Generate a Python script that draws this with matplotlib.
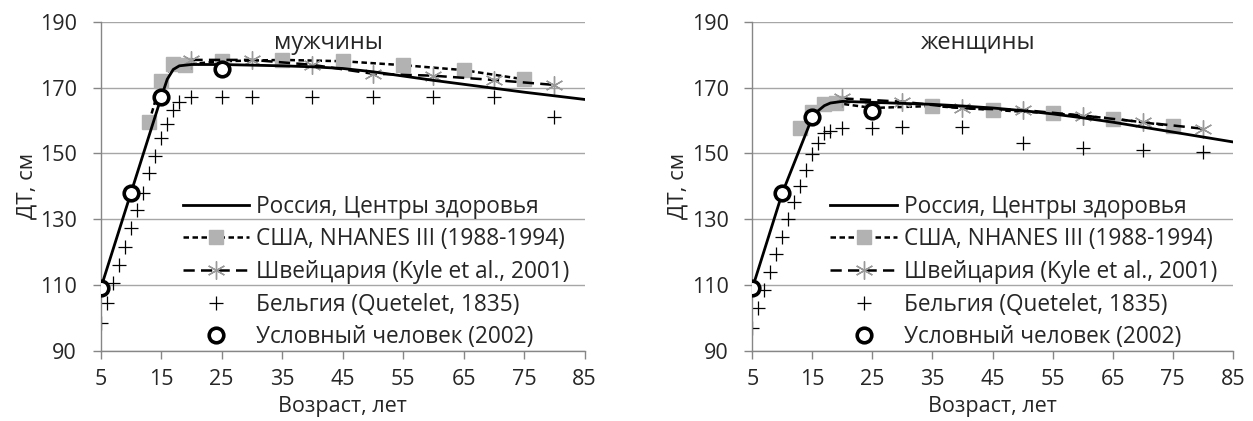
import matplotlib
matplotlib.use("Agg")
import matplotlib.pyplot as plt

plt.rcParams['font.family'] = ['Open Sans', 'DejaVu Sans']

# ---------------- data ----------------
ru_age = [5, 10, 15, 16, 17, 18, 20, 25, 30, 35, 40, 45, 50, 55, 60, 65, 70, 75, 80, 85]
ru_m = [109, 138, 167, 172.5, 175.5, 176.6, 177, 177, 176.8, 176.6, 176.3, 175.8, 174.8, 173.5, 172.2, 171, 169.8, 168.6, 167.5, 166.4]
ru_w = [109, 138, 161, 163, 164.5, 165.3, 165.8, 165.5, 165.2, 164.9, 164.4, 163.8, 163, 162, 160.8, 159.5, 158, 156.5, 155, 153.5]

usa_age = [13, 15, 17, 19, 25, 35, 45, 55, 65, 75]
usa_m = [159.5, 172, 177.1, 177, 178, 178.4, 178, 176.8, 175.3, 172.5]
usa_w = [157.6, 162.5, 164.9, 165.3, 163.8, 164.4, 163.2, 162.2, 160.6, 158.3]

sw_age = [20, 30, 40, 50, 60, 70, 80]
sw_m = [178.4, 178.4, 176.9, 174.2, 173.6, 172.3, 170.8]
sw_w = [166.7, 165.7, 163.7, 163.2, 161.5, 159.5, 157.5]

be_age = [5, 6, 7, 8, 9, 10, 11, 12, 13, 14, 15, 16, 17, 18, 20, 25, 30, 40, 50, 60, 70, 80]
be_m = [98.6, 104.7, 110.5, 116, 121.7, 127.4, 132.8, 138, 144, 149.2, 154.6, 158.9, 163.2, 165.7,
        167, 167, 167, 167, 167, 167, 167, 161]
be_w = [97, 103, 108.5, 114, 119.5, 124.5, 130, 135.3, 140.2, 145, 149.7, 153.3, 156.1, 156.8,
        157.6, 157.6, 158, 158, 153.3, 151.5, 151, 150.5]

uc_age = [5, 10, 15, 25]
uc_m = [109, 138, 167, 175.6]
uc_w = [109, 138, 161.2, 163]

labels = ["Россия, Центры здоровья", "США, NHANES III (1988-1994)",
          "Швейцария (Kyle et al., 2001)", "Бельгия (Quetelet, 1835)",
          "Условный человек (2002)"]
titles = ["мужчины", "женщины"]
xticks = [5, 15, 25, 35, 45, 55, 65, 75, 85]
yticks = [90, 110, 130, 150, 170, 190]

# ---------------- figure ----------------
W, H = 1253, 421
fig = plt.figure(figsize=(W / 100, H / 100), dpi=100)

txt_col = '#262626'
grid_col = '#a6a6a6'
axis_col = '#868686'
sq_col = '#b2b2b2'
ast_col = '#9a9a9a'
asterisk = (6, 2, 0)

panels = [
    dict(pos=[100.7 / W, 1 - 351 / H, 483.8 / W, 329.3 / H], ru=ru_m, usa=usa_m, sw=sw_m, be=be_m, uc=uc_m,
         title=titles[0], leg=(0.1695, 0.4746)),
    dict(pos=[752.3 / W, 1 - 351 / H, 480.4 / W, 329.3 / H], ru=ru_w, usa=usa_w, sw=sw_w, be=be_w, uc=uc_w,
         title=titles[1], leg=(0.162, 0.4746)),
]

for p in panels:
    ax = fig.add_axes(p['pos'])
    ax.set_xlim(5, 85)
    ax.set_ylim(90, 190)
    ax.set_xticks(xticks)
    ax.set_yticks(yticks)
    ax.yaxis.grid(True, color=grid_col, linewidth=1.0)
    ax.set_axisbelow(True)
    for s in ['top', 'right']:
        ax.spines[s].set_visible(False)
    for s in ['left', 'bottom']:
        ax.spines[s].set_color(axis_col)
        ax.spines[s].set_linewidth(1.0)
    ax.tick_params(axis='both', direction='out', length=6, width=1.0, color=axis_col,
                   labelsize=15.5, labelcolor=txt_col)
    ax.tick_params(axis='x', pad=7)
    ax.tick_params(axis='y', pad=11)

    l1, = ax.plot(ru_age, p['ru'], color='black', linewidth=2.0, zorder=3)
    l2, = ax.plot(usa_age, p['usa'], color='black', linewidth=1.8, linestyle=(0, (2.2, 1.4)),
                  marker='s', markersize=9.5, markerfacecolor=sq_col, markeredgecolor=sq_col, zorder=2)
    l3, = ax.plot(sw_age, p['sw'], color='black', linewidth=1.8, linestyle=(0, (4.5, 2.5)),
                  marker=asterisk, markersize=13, markeredgecolor=ast_col, markeredgewidth=1.0, zorder=2.5)
    l4, = ax.plot(be_age, p['be'], linestyle='none', marker='+', markersize=10,
                  markeredgecolor='black', markeredgewidth=0.9, zorder=2)
    l5, = ax.plot(uc_age, p['uc'], linestyle='none', marker='o', markersize=10.5,
                  markerfacecolor='white', markeredgecolor='black', markeredgewidth=2.6, zorder=4)

    ax.text(42.7, 183.5, p['title'], ha='center', va='center', fontsize=17, color=txt_col)
    ax.set_xlabel("Возраст, лет", fontsize=15.5, color=txt_col)
    ax.xaxis.set_label_coords(0.5, -0.137)
    ax.set_ylabel("ДТ, см", fontsize=16, color=txt_col, labelpad=2)

    leg = ax.legend([l1, l2, l3, l4, l5], labels, loc='upper left', bbox_to_anchor=p['leg'],
                    frameon=False, fontsize=16.3, handlelength=2.95, handletextpad=0.3,
                    labelspacing=0.38, borderpad=0, borderaxespad=0, numpoints=1)
    for t in leg.get_texts():
        t.set_color(txt_col)

fig.savefig("out.png", dpi=100)
